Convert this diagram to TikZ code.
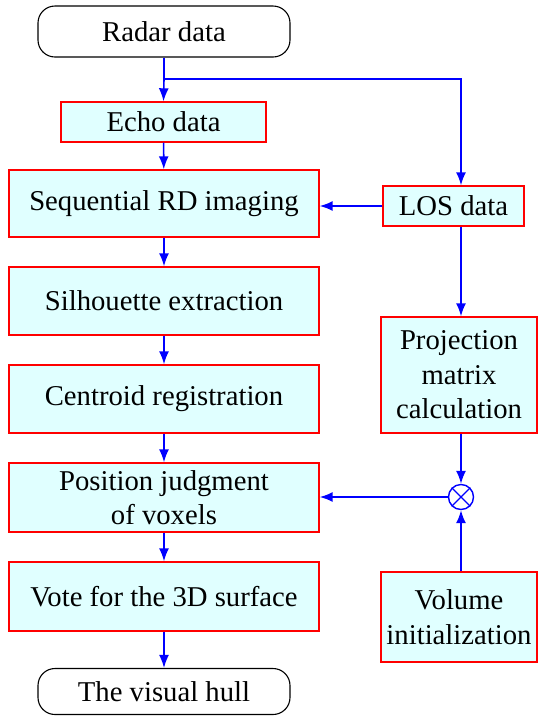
\documentclass[tikz,border=0pt]{standalone}
\usepackage{fontspec}
\setmainfont{Liberation Serif}
\usetikzlibrary{arrows.meta,positioning,calc}
\definecolor{boxfill}{RGB}{224,255,255}
\tikzset{
  proc/.style={draw=red, line width=1.4pt, fill=boxfill, inner sep=0pt, align=center},
  term/.style={draw=black, line width=1.1pt, rounded corners=17pt, inner sep=0pt, minimum width=252pt},
  flow/.style={draw=blue, line width=1.6pt, -{Latex[length=13pt,width=10pt]}},
  flowline/.style={draw=blue, line width=1.6pt},
}

\begin{document}
\begin{tikzpicture}[x=1pt, y=1pt, font=\fontsize{28.7}{34.5}\selectfont]
\useasboundingbox (0,0) rectangle (538,-716);

% main column
\node[term, minimum height=51pt] (radar) at (164,-31.5) {Radar data};
\node[proc, minimum width=205pt, minimum height=40pt] (echo) at (163.5,-122) {Echo data};
\node[proc, minimum width=310pt, minimum height=67pt] (seq) at (164,-203.5) {Sequential RD imaging};
\node[proc, minimum width=310pt, minimum height=68pt] (sil) at (164,-301) {Silhouette extraction};
\node[proc, minimum width=310pt, minimum height=68pt] (cen) at (164,-399) {Centroid registration};
\node[proc, minimum width=310pt, minimum height=69pt] (pos) at (164,-497.5) {Position judgment\\of voxels};
\node[proc, minimum width=310pt, minimum height=69pt] (vote) at (164,-596.5) {Vote for the 3D surface};
\node[term, minimum height=46pt] (hull) at (164,-691.5) {The visual hull};

% right column
\node[proc, minimum width=141pt, minimum height=40pt] (los) at (453.5,-206) {LOS data};
\node[proc, minimum width=156pt, minimum height=116pt] (proj) at (459,-375) {Projection\\matrix\\calculation};
\node[proc, minimum width=156pt, minimum height=90pt] (vol) at (459,-617) {Volume\\initialization};
\node[draw=blue, line width=1.4pt, circle, minimum size=25pt, inner sep=0pt] (mul) at (461,-497) {};
\draw[blue, line width=1.2pt] (mul.north east) -- (mul.south west) (mul.north west) -- (mul.south east);

\coordinate (split) at (164,-79);
\coordinate (turn) at (461,-79);

\draw[flowline] (radar.south) -- (split);
\draw[flow] (split) -- (echo.north);
\draw[flow] (split) -- (turn) -- (turn |- los.north);
\draw[flow] (echo) -- (seq);
\draw[flow] (los.west) -- (los.west -| seq.east);
\draw[flow] (seq) -- (sil);
\draw[flow] (sil) -- (cen);
\draw[flow] (cen) -- (pos);
\draw[flow] (pos) -- (vote);
\draw[flow] (vote) -- (hull);
\draw[flow] (turn |- los.south) -- (turn |- proj.north);
\draw[flow] (mul |- proj.south) -- (mul.north);
\draw[flow] (mul |- vol.north) -- (mul.south);
\draw[flow] (mul.west) -- (mul.west -| pos.east);
\end{tikzpicture}
\end{document}
